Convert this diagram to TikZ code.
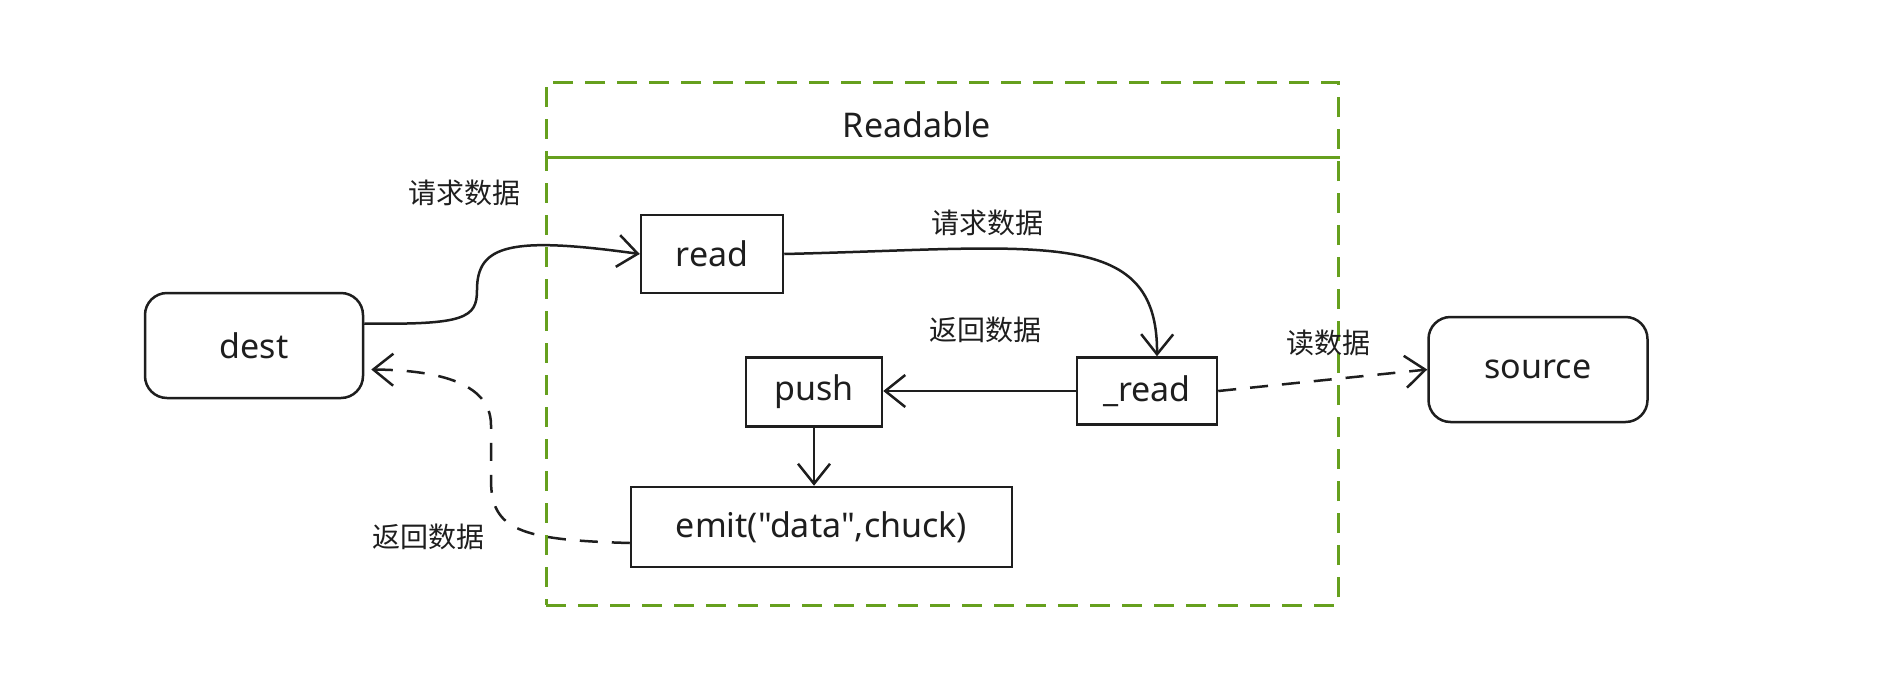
\documentclass[tikz,border=0pt]{standalone}
\usepackage{fontspec}
\newfontfamily\hand{Noto Sans}
\newfontfamily\cjk{Noto Sans CJK SC}
\usetikzlibrary{arrows.meta,calc}
\definecolor{grn}{RGB}{102,160,30}
\definecolor{ink}{RGB}{30,30,30}
\begin{document}
\begin{tikzpicture}[x=1pt,y=-1pt,
  box/.style={draw=ink,line width=2.5pt,inner sep=0pt,font=\hand\fontsize{34}{40}\selectfont,text=ink},
  rbox/.style={box,rounded corners=22pt},
  lbl/.style={font=\cjk\fontsize{28}{32}\selectfont,text=ink,inner sep=0pt},
  conn/.style={draw=ink,line width=2.5pt,-{Straight Barb[length=20pt,width=32pt,line width=2.5pt]}},
  dconn/.style={conn,dash pattern=on 18pt off 14pt},
  container/.style={draw=grn,line width=3pt,dash pattern=on 20pt off 12pt,inner sep=0pt}
]
\useasboundingbox[fill=white] (0,0) rectangle (1896,678);

% container
\node[container,minimum width=792pt,minimum height=523pt] (cont) at (942,343.5) {};
\coordinate (sepL) at ($(cont.north west)+(0,77)$);
\coordinate (sepR) at ($(cont.north east)+(0,77)$);
\draw[draw=grn,line width=3pt] (sepL) -- (sepR);
\node[font=\hand\fontsize{34}{40}\selectfont,text=ink] (title) at (917,125) {Readable};

% nodes
\node[rbox,minimum width=218pt,minimum height=105pt] (dest) at (254,345.5) {dest};
\node[rbox,minimum width=219pt,minimum height=105pt] (source) at (1538,369.5) {source};
\node[box,minimum width=142pt,minimum height=78pt] (read) at (712,254) {read};
\node[box,minimum width=140pt,minimum height=67pt] (rd) at (1147,391) {\_read};
\node[box,minimum width=136pt,minimum height=69pt] (push) at (814,392) {push};
\node[box,minimum width=381pt,minimum height=80pt] (emit) at (821.5,527) {emit("data",chuck)};

% labels
\node[lbl] (l1) at (464,193) {请求数据};
\node[lbl] (l2) at (987,223) {请求数据};
\node[lbl] (l3) at (985,330) {返回数据};
\node[lbl] (l4) at (1328,343) {读数据};
\node[lbl] (l5) at (428,537) {返回数据};

% connectors
\coordinate (dA) at ($(dest.east)+(0,-22)$);
\draw[conn] (dA) .. controls (465,325) and (477,318) .. (477,290) .. controls (477,245) and (510,236) .. (read.west);
\coordinate (rdN) at ($(rd.north)+(10,0)$);
\draw[conn] (read.east) .. controls (1040,248) and (1158,225) .. (rdN);
\draw[conn] (rd.west) -- (rd.west -| push.east);
\draw[conn] (push.south) -- (push.south |- emit.north);
\draw[dconn] (rd.east) -- (source.west);
\coordinate (eW) at ($(emit.west)+(0,16)$);
\coordinate (dB) at ($(dest.east)+(7,24)$);
\draw[dconn] (eW) .. controls (520,540) and (491,530) .. (491,480) -- (491,425) .. controls (491,380) and (430,370) .. (dB);
\end{tikzpicture}
\end{document}
